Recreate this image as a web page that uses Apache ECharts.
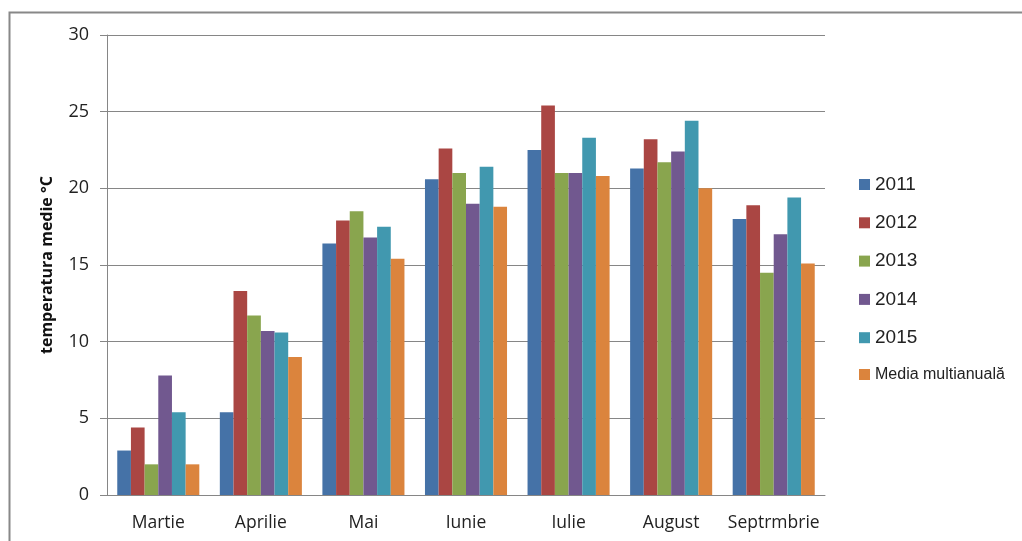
<!DOCTYPE html>
<html>
<head>
<meta charset="utf-8">
<script src="https://cdn.jsdelivr.net/npm/echarts@6/dist/echarts.min.js"></script>
<style>
  html, body { margin: 0; padding: 0; background: #fff; }
  #chart { width: 1022px; height: 541px; }
</style>
</head>
<body>
<div id="chart"></div>
<script>
// luni
var months = ['Martie', 'Aprilie', 'Mai', 'Iunie', 'Iulie', 'August', 'Septrmbrie'];

// temperaturi medii pe ani
var t2011 = [2.9, 5.4, 16.4, 20.6, 22.5, 21.3, 18.0];
var t2012 = [4.4, 13.3, 17.9, 22.6, 25.4, 23.2, 18.9];
var t2013 = [2.0, 11.7, 18.5, 21.0, 21.0, 21.7, 14.5];
var t2014 = [7.8, 10.7, 16.8, 19.0, 21.0, 22.4, 17.0];
var t2015 = [5.4, 10.6, 17.5, 21.4, 23.3, 24.4, 19.4];
var media = [2.0, 9.0, 15.4, 18.8, 20.8, 20.0, 15.1];

var seriesNames = ['2011', '2012', '2013', '2014', '2015', 'Media multianuală'];
var seriesData = [t2011, t2012, t2013, t2014, t2015, media];
var colors = ['#4572A7', '#AA4643', '#89A54E', '#71588F', '#4198AF', '#DB843D'];

function initChart() {
    var myChart = echarts.init(document.getElementById('chart'));

    var series = seriesNames.map(function (name, i) {
        return {
            name: name,
            type: 'bar',
            data: seriesData[i],
            barGap: '0%',
            barCategoryGap: '20%',
            itemStyle: { color: colors[i] }
        };
    });

    var option = {
        animation: false,
        color: colors,
        graphic: [{
            type: 'rect',
            left: 7, top: 10,
            shape: { width: 1040, height: 560 },
            style: { fill: 'none', stroke: '#888', lineWidth: 2 },
            silent: true
        }],
        grid: { left: 107, right: 197, top: 35, bottom: 46 },
        legend: {
            orient: 'vertical',
            left: 854,
            top: 170,
            itemWidth: 11,
            itemHeight: 11,
            itemGap: 19.3,
            icon: 'rect',
            formatter: function (name) {
                return name.indexOf('Media') === 0 ? '{s|' + name + '}' : '{b|' + name + '}';
            },
            textStyle: {
                rich: {
                    b: { fontFamily: 'Liberation Sans', fontSize: 19, lineHeight: 20, color: '#222' },
                    s: { fontFamily: 'Liberation Sans', fontSize: 16, lineHeight: 20, color: '#222' }
                }
            }
        },
        xAxis: {
            type: 'category',
            data: months,
            axisLine: { lineStyle: { color: '#868686', width: 1 } },
            axisTick: { show: false },
            axisLabel: { interval: 0, margin: 19, fontFamily: 'Open Sans', fontSize: 17.5, color: '#222' }
        },
        yAxis: {
            type: 'value',
            min: 0,
            max: 30,
            interval: 5,
            name: 'temperatura medie °C',
            nameLocation: 'middle',
            nameGap: 52,
            nameTextStyle: { fontFamily: 'Open Sans', fontWeight: 'bold', fontSize: 16, color: '#111' },
            axisLine: { show: true, lineStyle: { color: '#868686' } },
            axisTick: { show: true, length: 7, lineStyle: { color: '#868686' } },
            axisLabel: { margin: 18, fontFamily: 'Open Sans', fontSize: 18, color: '#222' },
            splitLine: { lineStyle: { color: '#868686', width: 1 } }
        },
        series: series
    };

    myChart.setOption(option);
}

initChart();
</script>
</body>
</html>
